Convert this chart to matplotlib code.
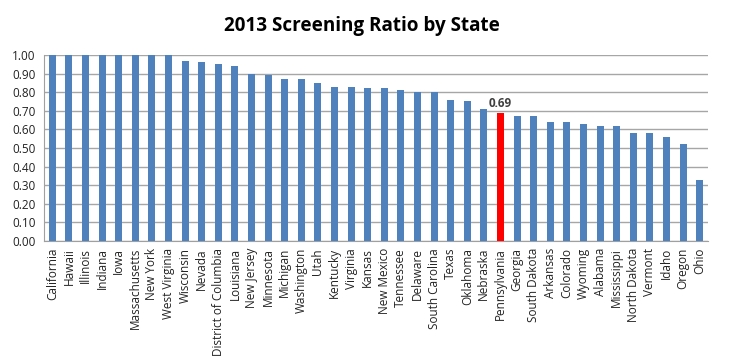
import matplotlib
matplotlib.use("Agg")
import matplotlib.pyplot as plt
import numpy as np

states = ["California", "Hawaii", "Illinois", "Indiana", "Iowa", "Massachusetts",
          "New York", "West Virginia", "Wisconsin", "Nevada", "District of Columbia",
          "Louisiana", "New Jersey", "Minnesota", "Michigan", "Washington", "Utah",
          "Kentucky", "Virginia", "Kansas", "New Mexico", "Tennessee", "Delaware",
          "South Carolina", "Texas", "Oklahoma", "Nebraska", "Pennsylvania", "Georgia",
          "South Dakota", "Arkansas", "Colorado", "Wyoming", "Alabama", "Mississippi",
          "North Dakota", "Vermont", "Idaho", "Oregon", "Ohio"]
ratios = [1.00, 1.00, 1.00, 1.00, 1.00, 1.00, 1.00, 1.00, 0.97, 0.96, 0.95, 0.94,
          0.90, 0.89, 0.87, 0.87, 0.85, 0.83, 0.83, 0.82, 0.82, 0.81, 0.80, 0.80,
          0.76, 0.75, 0.71, 0.69, 0.67, 0.67, 0.64, 0.64, 0.63, 0.62, 0.62, 0.58,
          0.58, 0.56, 0.52, 0.33]
highlight = "Pennsylvania"

plt.rcParams['font.family'] = ['Open Sans', 'DejaVu Sans']

fig = plt.figure(figsize=(7.37, 3.59), dpi=100)
ax = fig.add_axes([0.0597, 0.3287, 0.9009, 0.5181])

x = np.arange(len(states))
colors = ["#FF0000" if s == highlight else "#4F81BD" for s in states]
ax.bar(x, ratios, width=0.42, color=colors, zorder=3)

ax.set_xlim(-0.5, len(states) - 0.5)
ax.set_ylim(0, 1.0)
ax.set_yticks(np.arange(0, 1.01, 0.1))
ax.set_yticklabels([f"{v:.2f}" for v in np.arange(0, 1.01, 0.1)], fontsize=8.5,
                   color="#222222")
ax.set_xticks(x)
ax.set_xticklabels(states, rotation=90, fontsize=8.5, color="#222222")
ax.tick_params(axis='y', length=0, pad=6)
ax.tick_params(axis='x', length=0, pad=5)
ax.yaxis.grid(True, color="#A6A6A6", linewidth=1.0, zorder=0)
for sp in ["top", "right"]:
    ax.spines[sp].set_visible(False)
for sp in ["left", "bottom"]:
    ax.spines[sp].set_color("#A0A0A0")

i = states.index(highlight)
ax.text(x[i], ratios[i] + 0.015, f"{ratios[i]:.2f}", ha="center", va="bottom",
        fontsize=8.5, fontweight="bold", color="#404040")

fig.text(0.491, 0.928, "2013 Screening Ratio by State", ha="center", va="center",
         fontsize=13.6, fontweight="bold")

fig.savefig("out.png", dpi=100)
